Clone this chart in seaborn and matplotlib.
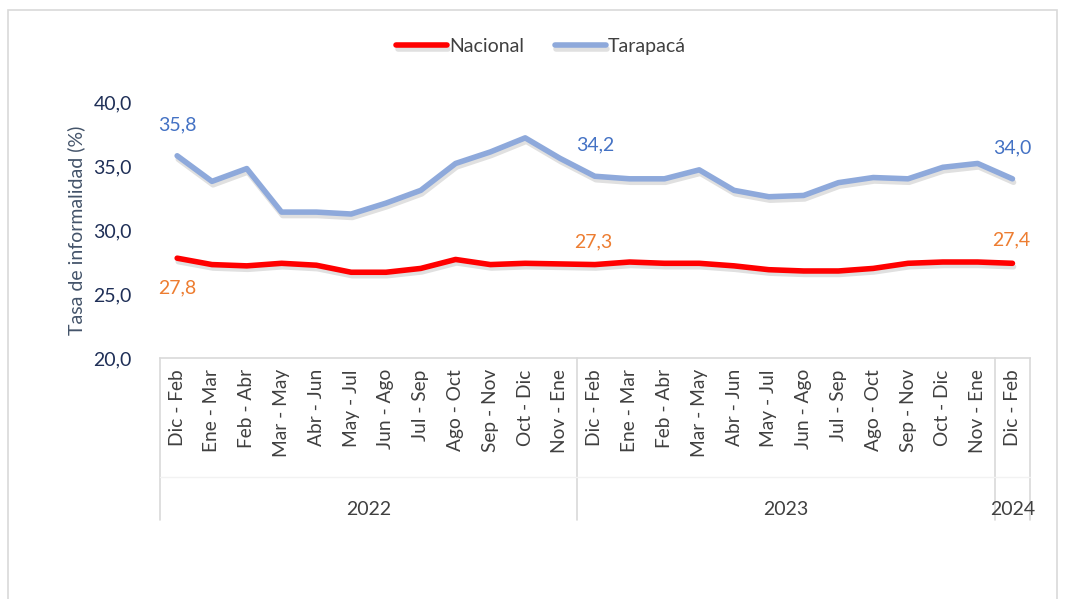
import matplotlib
matplotlib.use("Agg")
import matplotlib.pyplot as plt
import matplotlib.patheffects as pe
from matplotlib.patches import Rectangle
import seaborn as sns
import pandas as pd

# Data
periodos = ["Dic - Feb", "Ene - Mar", "Feb - Abr", "Mar - May", "Abr - Jun", "May - Jul",
            "Jun - Ago", "Jul - Sep", "Ago - Oct", "Sep - Nov", "Oct - Dic", "Nov - Ene",
            "Dic - Feb", "Ene - Mar", "Feb - Abr", "Mar - May", "Abr - Jun", "May - Jul",
            "Jun - Ago", "Jul - Sep", "Ago - Oct", "Sep - Nov", "Oct - Dic", "Nov - Ene",
            "Dic - Feb"]
anios = ["2022", "2023", "2024"]
periodos_por_anio = [12, 12, 1]
nacional = [27.8, 27.3, 27.2, 27.4, 27.25, 26.7, 26.7, 27.0, 27.7, 27.3, 27.4, 27.35,
            27.3, 27.5, 27.4, 27.4, 27.2, 26.9, 26.8, 26.8, 27.0, 27.4, 27.5, 27.5, 27.4]
tarapaca = [35.8, 33.8, 34.8, 31.4, 31.4, 31.25, 32.1, 33.1, 35.2, 36.1, 37.2, 35.6,
            34.2, 34.0, 34.0, 34.7, 33.1, 32.6, 32.7, 33.7, 34.1, 34.0, 34.9, 35.2, 34.0]
etiquetas_idx = [0, 12, 24]

df = pd.DataFrame({
    "pos": list(range(len(periodos))) * 2,
    "valor": nacional + tarapaca,
    "serie": ["Nacional"] * len(nacional) + ["Tarapacá"] * len(tarapaca),
})

sns.set_style("white")
plt.rcParams["font.family"] = ["Lato", "DejaVu Sans"]

fig = plt.figure(figsize=(10.65, 5.99), dpi=100)
ax = fig.add_axes([0.150, 0.4023, 0.817, 0.4274])

colores = {"Nacional": "#FF0000", "Tarapacá": "#8EA9DB"}
sns.lineplot(data=df, x="pos", y="valor", hue="serie", palette=colores,
             linewidth=4, ax=ax, legend=True)
for ln in ax.lines:
    ln.set_path_effects([pe.SimpleLineShadow(offset=(0.8, -2.5), alpha=0.12), pe.Normal()])
    ln.set_solid_capstyle("round")

def fmt(v):
    return f"{v:.1f}".replace(".", ",")

# data labels (Tarapacá above, Nacional below at first point, above elsewhere)
for i in etiquetas_idx:
    ax.text(i, tarapaca[i] + 2.45, fmt(tarapaca[i]), ha="center", va="center",
            color="#4472C4", fontsize=14)
    if i == 0:
        ax.text(i, nacional[i] - 2.35, fmt(nacional[i]), ha="center", va="center",
                color="#ED7D31", fontsize=14)
    else:
        ax.text(i - 0.05, nacional[i] + 1.8, fmt(nacional[i]), ha="center", va="center",
                color="#ED7D31", fontsize=14)

ax.set_ylim(20, 40)
ax.set_xlim(-0.5, len(periodos) - 0.5)
ax.set_yticks([20, 25, 30, 35, 40])
ax.set_yticklabels([fmt(v) for v in [20, 25, 30, 35, 40]], color="#1F2F57", fontsize=14)
ax.set_xticks(range(len(periodos)))
ax.set_xticklabels(periodos, rotation=90, fontsize=13.8, color="#404040")
ax.tick_params(axis="both", length=0)
ax.tick_params(axis="x", pad=8)
ax.tick_params(axis="y", pad=20)
ax.set_xlabel("")
ax.set_ylabel("Tasa de informalidad (%)", fontsize=14, color="#44546A", labelpad=6)

for s in ["top", "right", "left"]:
    ax.spines[s].set_visible(False)
ax.spines["bottom"].set_color("#D9D9D9")
ax.spines["bottom"].set_linewidth(1.2)

# category table below axis
linea = dict(color="#D9D9D9", lw=1.2, clip_on=False, transform=ax.get_xaxis_transform())
bordes = [-0.5]
acum = -0.5
for n in periodos_por_anio:
    acum += n
    bordes.append(acum)
for b in bordes:
    ax.plot([b, b], [0, -0.633], **linea)
ax.plot([-0.5, len(periodos) - 0.5], [-0.465, -0.465], color="#F2F2F2", lw=1,
        clip_on=False, transform=ax.get_xaxis_transform())
for k, anio in enumerate(anios):
    centro = (bordes[k] + bordes[k + 1]) / 2
    ax.text(centro, -0.59, anio, ha="center", va="center", fontsize=14, color="#404040",
            transform=ax.get_xaxis_transform())

# legend
handles, labels = ax.get_legend_handles_labels()
ax.legend(handles, labels, loc="center", bbox_to_anchor=(0.508, 0.922),
          bbox_transform=fig.transFigure, ncol=2, frameon=False, fontsize=14,
          handlelength=2.6, columnspacing=1.6, handletextpad=0.1, labelcolor="#404040")

# outer border
fig.patches.append(Rectangle((8 / 1065, -0.01), 1049 / 1065, 1 - 10 / 599 + 0.01,
                             transform=fig.transFigure, fill=False,
                             edgecolor="#D9D9D9", lw=1.2))

fig.savefig("out.png", dpi=100)
